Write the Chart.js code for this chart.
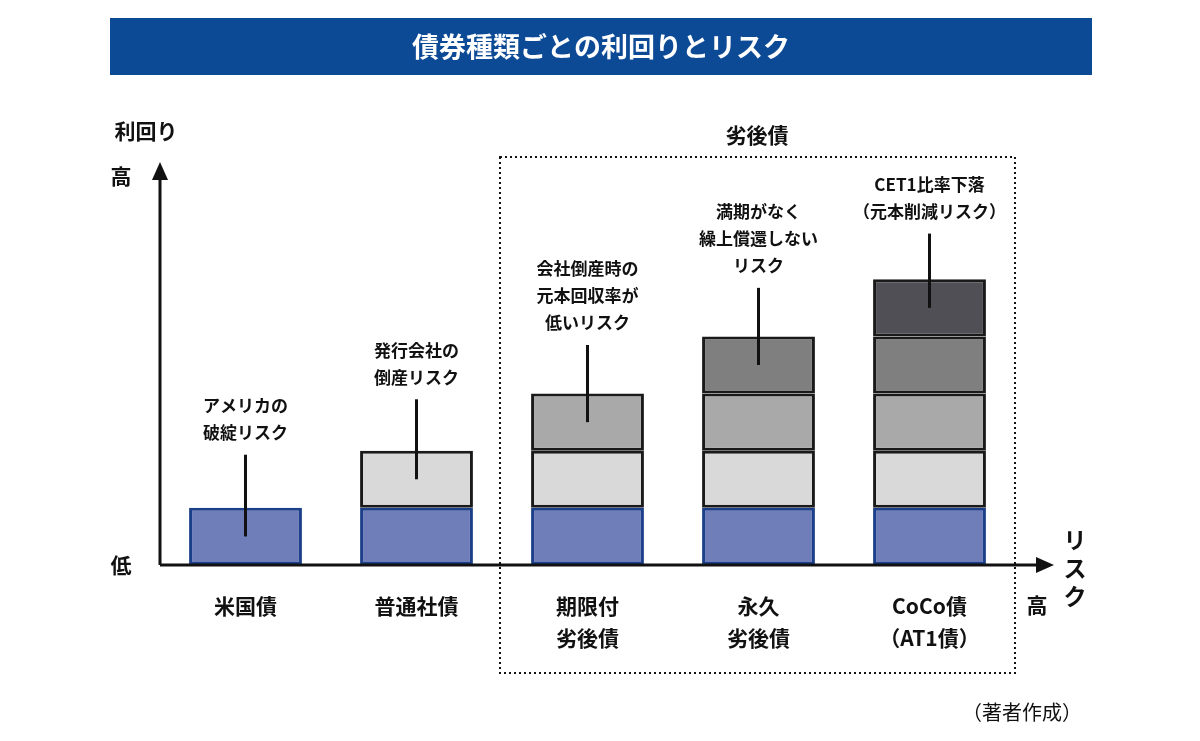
<!DOCTYPE html>
<html>
<head>
<meta charset="utf-8">
<script src="https://cdn.jsdelivr.net/npm/chart.js@4"></script>
<style>
  html, body { margin: 0; padding: 0; background: #fff; }
  #wrap { width: 1200px; height: 741px; position: relative; }
</style>
</head>
<body>
<div id="wrap"><canvas id="c"></canvas></div>
<script>
// data
const categories = [['米国債'], ['普通社債'], ['期限付', '劣後債'], ['永久', '劣後債'], ['CoCo債', '（AT1債）']];
const baseLayer = [1, 1, 1, 1, 1];
const layer1 = [null, 1, 1, 1, 1];
const layer2 = [null, null, 1, 1, 1];
const layer3 = [null, null, null, 1, 1];
const layer4 = [null, null, null, null, 1];
const calloutText = [
  ['アメリカの', '破綻リスク'],
  ['発行会社の', '倒産リスク'],
  ['会社倒産時の', '元本回収率が', '低いリスク'],
  ['満期がなく', '繰上償還しない', 'リスク'],
  ['CET1比率下落', '（元本削減リスク）']
];
const calloutFrom = [0.5, 1.5, 2.5, 3.5, 4.5];
const calloutTo = [1.93, 2.9, 3.85, 4.85, 5.8];

const FONT = '"Noto Sans CJK JP", "Noto Sans", sans-serif';

const layerStyles = [
  { data: baseLayer, bg: '#6f7db8', border: '#1b3f88' },
  { data: layer1, bg: '#d9d9d9', border: '#1a1a1a' },
  { data: layer2, bg: '#a9a9a9', border: '#1a1a1a' },
  { data: layer3, bg: '#7f7f7f', border: '#1a1a1a' },
  { data: layer4, bg: '#4f4f55', border: '#1a1a1a' }
];

const decor = {
  id: 'decor',
  afterDatasetsDraw(chart) {
    const ctx = chart.ctx;
    const x = chart.scales.x, y = chart.scales.y;
    const left = chart.chartArea.left, bottom = y.getPixelForValue(0);
    ctx.save();

    // title banner
    ctx.fillStyle = '#0d4a96';
    ctx.fillRect(110, 18, 982, 57);
    ctx.fillStyle = '#fff';
    ctx.font = 'bold 27px ' + FONT;
    ctx.textAlign = 'center';
    ctx.textBaseline = 'middle';
    ctx.fillText('債券種類ごとの利回りとリスク', 601, 47);

    // axes
    ctx.strokeStyle = '#111';
    ctx.fillStyle = '#111';
    ctx.lineWidth = 3;
    ctx.beginPath();
    ctx.moveTo(left, bottom); ctx.lineTo(left, 178);
    ctx.moveTo(left, bottom); ctx.lineTo(1038, bottom);
    ctx.stroke();
    ctx.beginPath();
    ctx.moveTo(left, 162); ctx.lineTo(left - 8, 180); ctx.lineTo(left + 8, 180); ctx.fill();
    ctx.beginPath();
    ctx.moveTo(1054, bottom); ctx.lineTo(1036, bottom - 8); ctx.lineTo(1036, bottom + 8); ctx.fill();

    // axis words
    ctx.font = 'bold 21px ' + FONT;
    ctx.textAlign = 'center';
    ctx.fillText('利回り', 146, 131);
    ctx.fillText('高', 121, 176);
    ctx.fillText('低', 121, 565);
    ctx.fillText('高', 1037, 605);
    ctx.font = 'bold 23px ' + FONT;
    ['リ', 'ス', 'ク'].forEach((ch, i) => ctx.fillText(ch, 1075, 540 + i * 28));
    ctx.font = 'bold 21px ' + FONT;
    ctx.fillText('劣後債', 757, 135);

    // category labels
    ctx.font = 'bold 21px ' + FONT;
    categories.forEach((lines, i) => {
      const cx = x.getPixelForValue(i);
      lines.forEach((t, j) => ctx.fillText(t, cx, 606 + j * 32));
    });

    // dotted box
    ctx.lineWidth = 2;
    ctx.setLineDash([2, 3]);
    ctx.strokeRect(500, 157, 515, 516);
    ctx.setLineDash([]);

    // callouts
    ctx.lineWidth = 3;
    ctx.font = 'bold 17px ' + FONT;
    calloutText.forEach((lines, i) => {
      const cx = x.getPixelForValue(i);
      const y0 = y.getPixelForValue(calloutFrom[i]);
      const y1 = y.getPixelForValue(calloutTo[i]);
      ctx.beginPath(); ctx.moveTo(cx, y0); ctx.lineTo(cx, y1); ctx.stroke();
      const n = lines.length;
      lines.forEach((t, j) => ctx.fillText(t, cx, y1 - 22 - (n - 1 - j) * 27));
    });

    // source
    ctx.font = '20px ' + FONT;
    ctx.fillText('（著者作成）', 1022, 712);
    ctx.restore();
  }
};

new Chart(document.getElementById('c'), {
  type: 'bar',
  data: {
    labels: categories,
    datasets: layerStyles.map(l => ({
      data: l.data,
      backgroundColor: l.bg,
      borderColor: l.border,
      borderWidth: 3,
      borderSkipped: false,
      barPercentage: 0.66,
      categoryPercentage: 1
    }))
  },
  options: {
    responsive: true,
    maintainAspectRatio: false,
    animation: false,
    layout: { padding: { left: 160, right: 185, top: 165, bottom: 176 } },
    plugins: { legend: { display: false }, tooltip: { enabled: false } },
    scales: {
      x: { stacked: true, display: false },
      y: { stacked: true, display: false, min: 0, max: 7 }
    }
  },
  plugins: [decor]
});
</script>
</body>
</html>
